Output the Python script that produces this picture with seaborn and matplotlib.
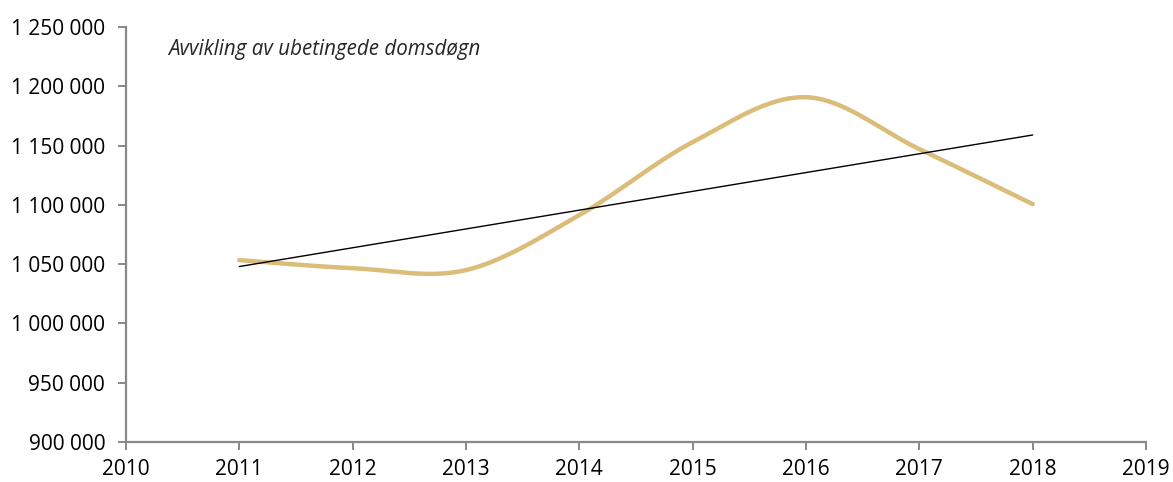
import numpy as np
import pandas as pd
import seaborn as sns
import matplotlib.pyplot as plt

# data
years = [2011, 2012, 2013, 2014, 2015, 2016, 2017, 2018]
domsdogn = [1053400, 1046600, 1045000, 1091300, 1152900, 1190800, 1147000, 1100600]
title = "Avvikling av ubetingede domsdøgn"


def smooth(x, y, n=40):
    # catmull-rom style smoothing like excel's smoothed line
    x = np.asarray(x, float)
    y = np.asarray(y, float)
    px = np.concatenate([[x[0]], x, [x[-1]]])
    py = np.concatenate([[y[0]], y, [y[-1]]])
    xs, ys = [], []
    t = np.linspace(0, 1, n)
    for i in range(1, len(px) - 2):
        for p, out in ((px, xs), (py, ys)):
            p0, p1, p2, p3 = p[i - 1], p[i], p[i + 1], p[i + 2]
            c1 = p1 + (p2 - p0) / 6
            c2 = p2 - (p3 - p1) / 6
            out.extend((1 - t) ** 3 * p1 + 3 * (1 - t) ** 2 * t * c1
                       + 3 * (1 - t) * t ** 2 * c2 + t ** 3 * p2)
    return np.array(xs), np.array(ys)


sns.set_theme(style="white")
plt.rcParams["font.family"] = ["Open Sans", "DejaVu Sans"]

fig = plt.figure(figsize=(11.73, 4.82), dpi=100)
ax = fig.add_axes([0.1074, 0.083, 0.8696, 0.861])

sx, sy = smooth(years, domsdogn)
df = pd.DataFrame({"year": sx, "value": sy})
sns.lineplot(data=df, x="year", y="value", ax=ax, color="#DBBC78",
             linewidth=3.2, sort=False, estimator=None)

# linear trend line
k, m = np.polyfit(years, domsdogn, 1)
trend = pd.DataFrame({"year": years, "value": np.polyval([k, m], years)})
trend = trend.iloc[[0, -1]]
sns.lineplot(data=trend, x="year", y="value", ax=ax, color="black", linewidth=1.0)

ax.set_xlim(2010, 2019)
ax.set_ylim(900000, 1250000)
ax.set_xticks(range(2010, 2020))
ax.set_yticks(range(900000, 1250001, 50000))
ax.set_yticklabels([f"{v:,}".replace(",", " ") for v in range(900000, 1250001, 50000)])
ax.set_xlabel("")
ax.set_ylabel("")

for s in ["top", "right"]:
    ax.spines[s].set_visible(False)
for s in ["left", "bottom"]:
    ax.spines[s].set_color("#888888")
    ax.spines[s].set_linewidth(1.6)
ax.tick_params(axis="both", direction="out", length=6, width=1.4, color="#888888",
               labelsize=15, labelcolor="black", bottom=True, left=True)
ax.tick_params(axis="y", pad=9)
ax.tick_params(axis="x", pad=6)

ax.text(0.041, 0.945, title, transform=ax.transAxes, fontsize=14.8, style="italic",
        va="center", ha="left")

fig.savefig("out.png", dpi=100)
